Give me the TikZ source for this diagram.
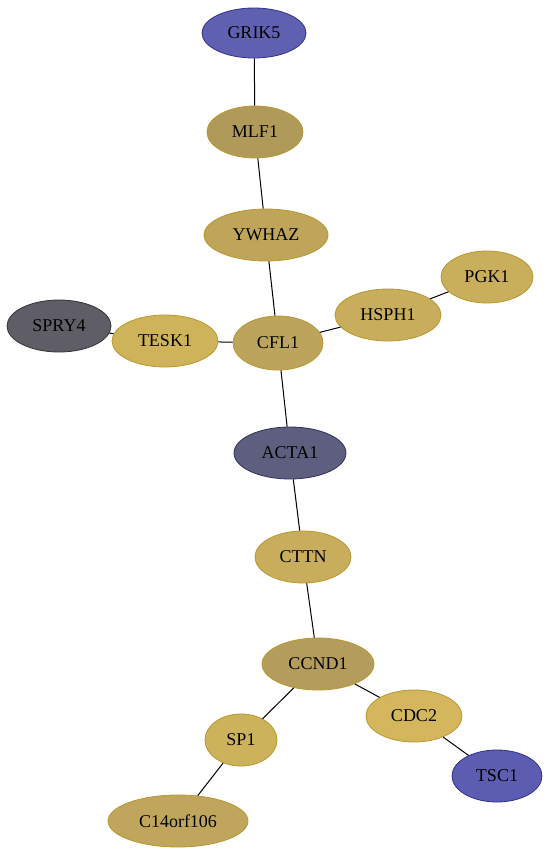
\documentclass[tikz,border=0pt]{standalone}
\usepackage{fontspec}
\setmainfont{Liberation Serif}
\usetikzlibrary{shapes.geometric}
\definecolor{cblue}{HTML}{6060B0}
\definecolor{cbluedk}{HTML}{303090}
\definecolor{cslate}{HTML}{5E5E7E}
\definecolor{cslatedk}{HTML}{30305E}
\definecolor{cgray}{HTML}{5F5E66}
\definecolor{cgraydk}{HTML}{333338}
\definecolor{cgoldedge}{HTML}{B8982E}
\tikzset{
  gene/.style={ellipse, draw=cgoldedge, line width=0.8pt, inner sep=0pt,
    font=\fontsize{18}{20}\selectfont, text=black},
  edge/.style={draw=black, line width=1pt}
}
\begin{document}
\begin{tikzpicture}[x=1pt,y=-1pt]
\useasboundingbox (0,0) rectangle (549,855);
\fill[white] (0,0) rectangle (549,855);
\node[gene, fill=cblue, draw=cbluedk, minimum width=104pt, minimum height=50pt] (GRIK5) at (254,33) {GRIK5};
\node[gene, fill={rgb,255:red,176;green,154;blue,90}, minimum width=96pt, minimum height=52pt] (MLF1) at (255,132) {MLF1};
\node[gene, fill={rgb,255:red,191;green,165;blue,90}, minimum width=124pt, minimum height=52pt] (YWHAZ) at (266,235) {YWHAZ};
\node[gene, fill={rgb,255:red,201;green,174;blue,92}, minimum width=92pt, minimum height=52pt] (PGK1) at (487,277) {PGK1};
\node[gene, fill={rgb,255:red,200;green,173;blue,92}, minimum width=106pt, minimum height=52pt] (HSPH1) at (388,315) {HSPH1};
\node[gene, fill=cgray, draw=cgraydk, minimum width=104pt, minimum height=52pt] (SPRY4) at (59,326) {SPRY4};
\node[gene, fill={rgb,255:red,207;green,179;blue,90}, minimum width=106pt, minimum height=52pt] (TESK1) at (165,341) {TESK1};
\node[gene, fill={rgb,255:red,188;green,164;blue,92}, minimum width=90pt, minimum height=54pt] (CFL1) at (278,343) {CFL1};
\node[gene, fill=cslate, draw=cslatedk, minimum width=112pt, minimum height=52pt] (ACTA1) at (290,453) {ACTA1};
\node[gene, fill={rgb,255:red,200;green,173;blue,92}, minimum width=96pt, minimum height=52pt] (CTTN) at (303,557) {CTTN};
\node[gene, fill={rgb,255:red,180;green,157;blue,92}, minimum width=112pt, minimum height=52pt] (CCND1) at (318,664) {CCND1};
\node[gene, fill={rgb,255:red,212;green,182;blue,92}, minimum width=96pt, minimum height=52pt] (CDC2) at (414,716) {CDC2};
\node[gene, fill={rgb,255:red,205;green,178;blue,92}, minimum width=72pt, minimum height=52pt] (SP1) at (241,740) {SP1};
\node[gene, fill={rgb,255:red,92;green,92;blue,176}, draw=cbluedk, minimum width=90pt, minimum height=52pt] (TSC1) at (497,776) {TSC1};
\node[gene, fill={rgb,255:red,191;green,166;blue,92}, minimum width=140pt, minimum height=52pt] (C14) at (178,821) {C14orf106};
\draw[edge] (GRIK5) -- (MLF1);
\draw[edge] (MLF1) -- (YWHAZ);
\draw[edge] (YWHAZ) -- (CFL1);
\draw[edge] (PGK1) -- (HSPH1);
\draw[edge] (HSPH1) -- (CFL1);
\draw[edge] (SPRY4) -- (TESK1);
\draw[edge] (TESK1) -- (CFL1);
\draw[edge] (CFL1) -- (ACTA1);
\draw[edge] (ACTA1) -- (CTTN);
\draw[edge] (CTTN) -- (CCND1);
\draw[edge] (CCND1) -- (CDC2);
\draw[edge] (CCND1) -- (SP1);
\draw[edge] (CDC2) -- (TSC1);
\draw[edge] (SP1) -- (C14);
\end{tikzpicture}
\end{document}
